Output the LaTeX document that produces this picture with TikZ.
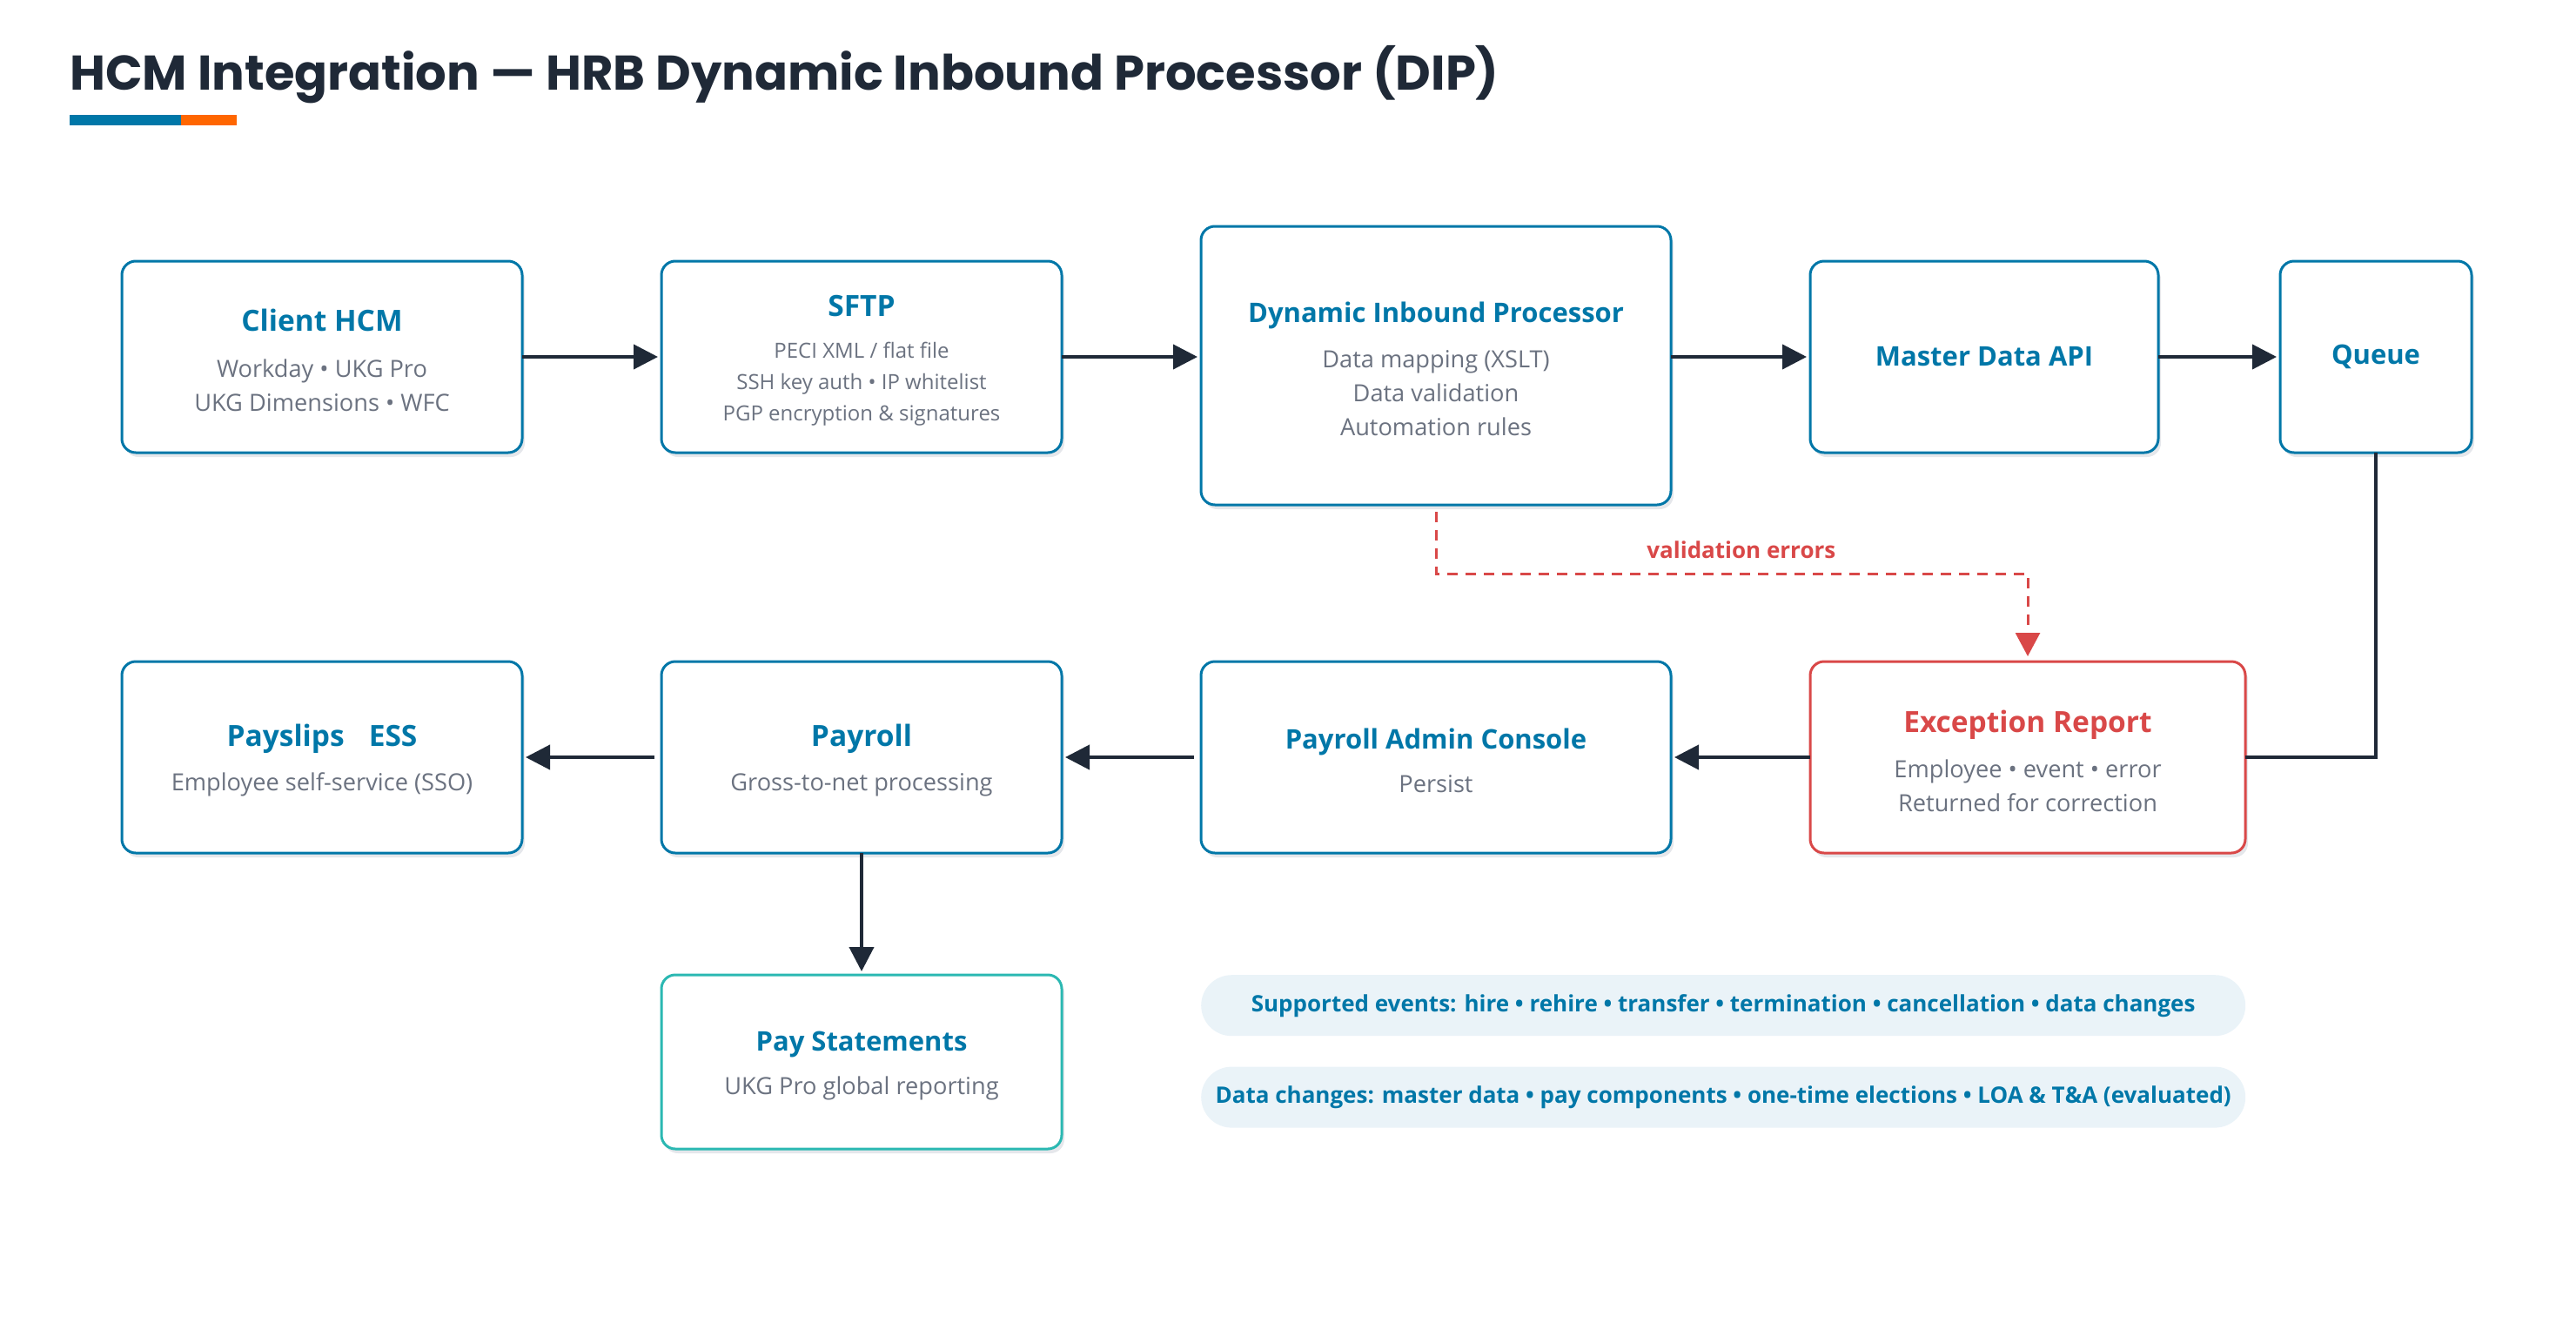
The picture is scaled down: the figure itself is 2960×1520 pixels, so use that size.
\documentclass[tikz,border=0pt]{standalone}
\usepackage{fontspec}
\setmainfont{Open Sans}
\newfontfamily\headfont{Poppins}
\usepackage{tikz}
\usetikzlibrary{arrows.meta, positioning, shadows}
\usepackage{xcolor}
\definecolor{hcmblue}{RGB}{0, 119, 168}
\definecolor{hcmred}{RGB}{217, 72, 72}
\definecolor{hcmteal}{RGB}{43, 184, 178}
\definecolor{hcmink}{RGB}{31, 41, 55}
\definecolor{hcmgray}{RGB}{107, 114, 128}
\definecolor{hcmorange}{RGB}{255, 102, 0}
\definecolor{pillfill}{RGB}{234, 243, 248}
\definecolor{shadowgray}{RGB}{229, 231, 235}
\newcommand{\headsz}{31}
% single-line title, and title with a strut for boxes with detail lines
\newcommand{\boxtitle}[2][hcmblue]{{\fontsize{\headsz}{36}\selectfont\bfseries\color{#1}#2}}
\newcommand{\boxhead}[2][hcmblue]{\rule{0pt}{\headsz pt}\boxtitle[#1]{#2}}

\begin{document}
\begin{tikzpicture}[x=1pt, y=-1pt,
    box/.style={draw=hcmblue, line width=3pt, rounded corners=16pt, fill=white, align=center,
      text=hcmgray, inner sep=0pt, outer sep=0pt, font=\fontsize{27.2}{39}\selectfont,
      drop shadow={shadow xshift=3pt, shadow yshift=-5pt, fill=shadowgray, opacity=1}},
    errbox/.style={box, draw=hcmred},
    outbox/.style={box, draw=hcmteal},
    bighead/.style={execute at begin node={\renewcommand{\headsz}{33.5}}},
    pill/.style={fill=pillfill, rounded corners=35pt, minimum width=1200pt, minimum height=70pt,
      inner sep=0pt, text=hcmblue, font=\fontsize{26}{30}\selectfont\bfseries},
    arr/.style={draw=hcmink, line width=4pt, -{Triangle[length=28pt, width=28pt]}, shorten >=4pt},
    flow/.style={draw=hcmink, line width=4pt},
    errline/.style={draw=hcmred, line width=3pt, dash pattern=on 12pt off 9pt,
      -{Triangle[length=27pt, width=28pt]}, shorten <=8pt, shorten >=6pt}]
  \useasboundingbox (0,0) rectangle (2960,1520);

  % title and accent bar
  \node[anchor=base west, inner sep=0pt, text=hcmink, font=\headfont\fontsize{56}{60}\selectfont\bfseries] (title) at (80,103) {HCM Integration — HRB Dynamic Inbound Processor (DIP)};
  \fill[hcmblue] (80,132) rectangle (208,144);
  \fill[hcmorange] (208,132) rectangle (272,144);

  % inbound row
  \node[box, bighead, minimum width=460pt, minimum height=220pt] (cli) at (370,410) {\boxhead{Client HCM}\\[14pt]Workday • UKG Pro\\UKG Dimensions • WFC};
  \node[box, bighead, minimum width=460pt, minimum height=220pt, font=\fontsize{24}{36}\selectfont, right=160pt of cli] (sftp) {\boxhead{SFTP}\\[12pt]PECI XML / flat file\\SSH key auth • IP whitelist\\PGP encryption \& signatures};
  \node[box, minimum width=540pt, minimum height=320pt, right=160pt of sftp, yshift=-10pt] (dip) {\boxhead{Dynamic Inbound Processor}\\[13pt]Data mapping (XSLT)\\Data validation\\Automation rules};
  \node[box, minimum width=400pt, minimum height=220pt, right=160pt of dip, yshift=10pt] (mda) {\boxtitle{Master Data API}};
  \node[box, minimum width=220pt, minimum height=220pt, right=140pt of mda] (queue) {\boxtitle{Queue}};

  % payroll row
  \node[box, bighead, minimum width=460pt, minimum height=220pt, below=240pt of cli] (psl) {\boxhead{Payslips\hspace{28pt}ESS}\\[12pt]Employee self-service (SSO)};
  \node[box, bighead, minimum width=460pt, minimum height=220pt, below=240pt of sftp] (pay) {\boxhead{Payroll}\\[12pt]Gross-to-net processing};
  \node[box, minimum width=540pt, minimum height=220pt, below=180pt of dip] (pac) {\boxhead{Payroll Admin Console}\\[11pt]Persist};
  \node[errbox, bighead, minimum width=500pt, minimum height=220pt, right=160pt of pac] (exc) {\boxhead[hcmred]{Exception Report}\\[13pt]Employee • event • error\\Returned for correction};
  \node[outbox, minimum width=460pt, minimum height=200pt, below=140pt of pay] (pst) {\boxhead{Pay Statements}\\[11pt]UKG Pro global reporting};

  % notes
  \node[pill, below right=140pt and 0pt of pac.south west] (evts) {Supported events: hire • rehire • transfer • termination • cancellation • data changes};
  \node[pill, below=35pt of evts] (chgs) {Data changes: master data • pay components • one-time elections • LOA \& T\&A (evaluated)};

  % connectors
  \draw[arr] (cli) -- (sftp);
  \draw[arr] (sftp.east) -- (sftp.east -| dip.west);
  \draw[arr] (dip.east |- mda.west) -- (mda.west);
  \draw[arr] (mda) -- (queue);
  \draw[flow] (queue.south) |- (exc.east);
  \draw[arr] (exc) -- (pac);
  \draw[arr, shorten <=8pt] (pac) -- (pay);
  \draw[arr, shorten <=8pt] (pay) -- (psl);
  \draw[arr] (pay) -- (pst);
  \draw[errline] (dip.south) -- ++(0,79) -| node[pos=0.258, above=16pt, inner sep=0pt, text=hcmred, font=\fontsize{26}{30}\selectfont\bfseries] {validation errors} (exc.north);
\end{tikzpicture}
\end{document}
